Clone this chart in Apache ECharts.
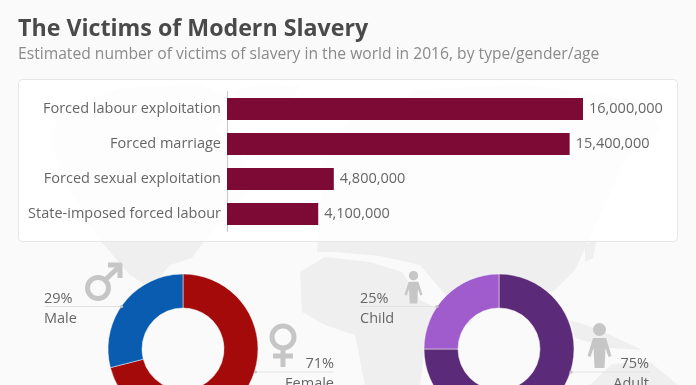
<!DOCTYPE html>
<html><head><meta charset="utf-8">
<style>html,body{margin:0;padding:0;background:#fafafa;overflow:hidden}#c{width:696px;height:385px}</style>
<script src="https://cdn.jsdelivr.net/npm/echarts@6/dist/echarts.min.js"></script>
</head><body><div id="c"></div>
<script>
const categories = ['Forced labour exploitation','Forced marriage','Forced sexual exploitation','State-imposed forced labour'];
const victims = [16000000,15400000,4800000,4100000];
const genderNames = ['Female','Male'];
const genderShares = [71,29];
const ageNames = ['Adult','Child'];
const ageShares = [75,25];
const FONT = '"Open Sans", sans-serif';
const mapColor = '#efefef';
const iconColor = '#c6c6c6';
const textColor = '#666666';
const land = [
 [[60,112],[120,88],[200,84],[235,100],[215,130],[240,150],[250,190],[205,240],[192,258],[170,265],[150,288],[130,275],[100,240],[70,190],[50,140]],
 [[232,92],[262,84],[300,86],[285,108],[255,120]],
 [[300,272],[325,257],[370,262],[402,272],[420,300],[445,312],[425,345],[420,385],[365,385],[355,335],[325,325],[302,312]],
 [[317,252],[325,150],[350,120],[420,90],[520,84],[640,100],[660,130],[625,160],[600,215],[575,270],[555,290],[535,300],[515,275],[490,285],[470,325],[450,300],[420,265],[380,256],[335,252]],
 [[585,245],[597,238],[593,258],[585,262]],
 [[570,320],[600,330],[642,350],[610,348],[575,338]],
 [[590,385],[612,364],[650,362],[678,385]]
];
const graphic = [];
land.forEach(p => graphic.push({type:'polygon',silent:true,z:-10,shape:{points:p},style:{fill:mapColor}}));
graphic.push({type:'rect',silent:true,z:-5,shape:{x:18.5,y:79.5,width:659,height:162,r:4},style:{fill:'rgba(255,255,255,0.86)',stroke:'#e6e6e6',lineWidth:1}});
graphic.push({type:'text',x:18,y:18,z:5,style:{text:'The Victims of Modern Slavery',font:'700 23.2px '+FONT,fill:'#4a4a4a'}});
graphic.push({type:'text',x:18,y:47,z:5,style:{text:'Estimated number of victims of slavery in the world in 2016, by type/gender/age',font:'400 15.65px '+FONT,fill:'#8a8a8a'}});
function guide(x1,x2,y,dx){
  graphic.push({type:'line',silent:true,z:1,shape:{x1:x1,y1:y,x2:x2,y2:y},style:{stroke:'#e2e2e2',lineWidth:1}});
  graphic.push({type:'circle',silent:true,z:20,shape:{cx:dx,cy:y,r:1.6},style:{fill:'#c4c4c4'}});
}
guide(45,122,306.5,121.5); guide(255,334,372,255.5); guide(360,437,306.5,437); guide(571,650,372,571);
const ring = (cx,cy,r,w)=>({type:'circle',silent:true,z:2,shape:{cx:cx,cy:cy,r:r},style:{fill:'none',stroke:iconColor,lineWidth:w}});
const seg = (x1,y1,x2,y2,w)=>({type:'line',silent:true,z:2,shape:{x1:x1,y1:y1,x2:x2,y2:y2},style:{stroke:iconColor,lineWidth:w}});
graphic.push(ring(98,288,10.5,5),seg(105,280,120,266,5),seg(108,265,122,265,5),seg(120,264,120,278,5));
graphic.push(ring(283,337,11,5),seg(283,348,283,367,5),seg(273,356,293,356,5));
function person(cx,top,s,w){
  graphic.push({type:'circle',silent:true,z:2,shape:{cx:cx,cy:top+s*6.5,r:s*6.5},style:{fill:iconColor}});
  const a=[[-6.5,15],[6.5,15],[12,33],[9,34],[6,25],[5,45],[-5,45],[-6,25],[-9,34],[-12,33]];
  graphic.push({type:'polygon',silent:true,z:2,shape:{points:a.map(q=>[cx+q[0]*w,top+q[1]*s])},style:{fill:iconColor}});
}
person(413.5,271,0.72,0.75); person(599.5,323,1.0,1.0);
const labelRich = {v:{fontFamily:FONT,fontSize:14.5,color:textColor,lineHeight:20},n:{fontFamily:FONT,fontSize:14.5,color:textColor,lineHeight:20}};
const donut = (cx,names,shares,colors,pos)=>({
  type:'pie',center:[cx,349],radius:[41,75],startAngle:90,silent:true,z:10,animation:false,
  itemStyle:{borderColor:'rgba(250,250,250,0.7)',borderWidth:0.7},
  data:names.map((n,i)=>({name:n,value:shares[i],itemStyle:{color:colors[i]}})),
  label:{show:true,formatter:p=>'{v|'+p.value+'%}\n{n|'+p.name+'}',rich:labelRich},
  labelLine:{show:false},
  labelLayout:p=>({x:pos[p.dataIndex][0],y:pos[p.dataIndex][1],align:pos[p.dataIndex][2],verticalAlign:'top',hideOverlap:false})
});
const option = {
  backgroundColor:'#fafafa',animation:false,graphic:{elements:graphic},
  grid:{left:227,top:91.5,width:356,height:140},
  xAxis:{type:'value',min:0,max:16000000,show:false},
  yAxis:{type:'category',inverse:true,data:categories,
    axisLine:{show:true,lineStyle:{color:'#c9c9c9',width:1}},axisTick:{show:false},
    axisLabel:{fontFamily:FONT,fontSize:14.5,color:textColor,margin:6,padding:[2,0,0,0]}},
  series:[
   {type:'bar',data:victims,barWidth:22,z:5,itemStyle:{color:'#7d0a35'},
    label:{show:true,position:'right',distance:6,fontFamily:FONT,fontSize:14.5,color:textColor,
      formatter:p=>p.value.toLocaleString('en-US')}},
   donut(183,genderNames,genderShares,['#a50a0a','#0a5cb0'],[[334,354,'right'],[44,289,'left']]),
   donut(499,ageNames,ageShares,['#5b2a78','#a05ccc'],[[649,354,'right'],[360,289,'left']])
  ]
};
echarts.init(document.getElementById('c'),null,{renderer:'canvas'}).setOption(option);
</script></body></html>
